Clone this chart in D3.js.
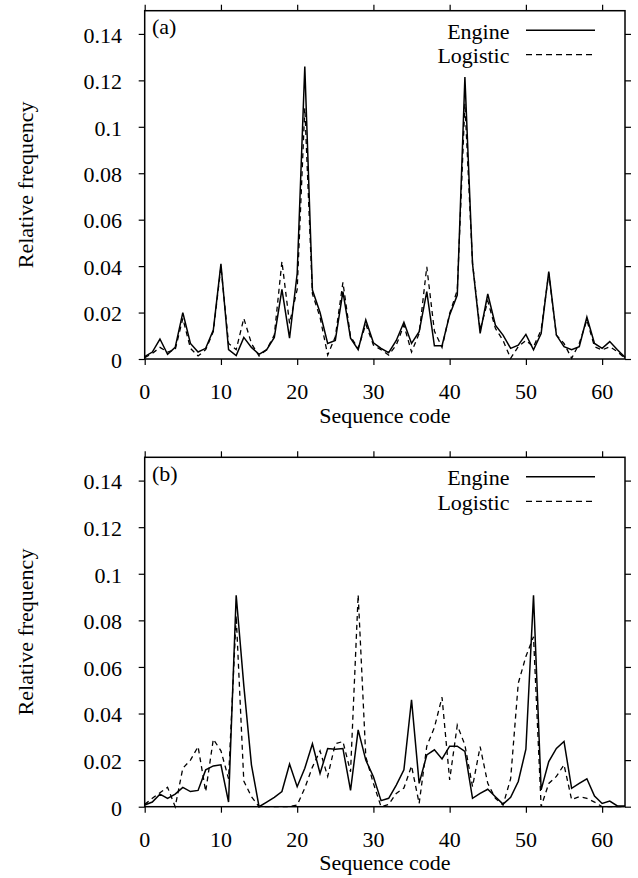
<!DOCTYPE html>
<html>
<head>
<meta charset="utf-8">
<script src="https://cdn.jsdelivr.net/npm/d3@7/dist/d3.min.js"></script>
<style>
  html, body { margin: 0; padding: 0; background: #fff; }
</style>
</head>
<body>
<svg id="chart" width="638" height="878"></svg>
<script>
// ---- data ----
const codes = [0,1,2,3,4,5,6,7,8,9,10,11,12,13,14,15,16,17,18,19,20,21,22,23,24,25,26,27,28,29,30,31,
  32,33,34,35,36,37,38,39,40,41,42,43,44,45,46,47,48,49,50,51,52,53,54,55,56,57,58,59,60,61,62,63];

const engineA = [0.001,0.003,0.0086,0.002,0.005,0.020,0.0067,0.003,0.0046,0.0125,0.041,0.004,0.0015,0.0093,0.005,0.002,
  0.004,0.0093,0.030,0.009,0.0368,0.126,0.0297,0.020,0.0067,0.008,0.029,0.009,0.004,0.0168,0.007,0.0046,
  0.0027,0.008,0.0158,0.0067,0.0118,0.029,0.0057,0.0057,0.019,0.0275,0.1214,0.041,0.011,0.028,0.0146,0.0103,
  0.0046,0.006,0.0106,0.004,0.011,0.0376,0.0103,0.0053,0.004,0.0053,0.018,0.0067,0.0046,0.0075,0.004,0.0007];

const logisticA = [0.0006,0.0024,0.005,0.003,0.004,0.0175,0.0046,0.0013,0.004,0.0118,0.0397,0.0067,0.004,0.0175,0.0067,0.0013,
  0.004,0.0103,0.042,0.0153,0.030,0.108,0.028,0.018,0.0017,0.0096,0.033,0.0096,0.0046,0.015,0.006,0.004,
  0.0017,0.006,0.0146,0.003,0.011,0.0397,0.012,0.005,0.0196,0.0296,0.110,0.0413,0.0125,0.025,0.0132,0.008,
  0.0003,0.0053,0.008,0.0053,0.0125,0.0369,0.0103,0.0067,0.0003,0.0067,0.0168,0.0053,0.0039,0.0053,0.0032,0.0003];

const engineB = [0.0007,0.002,0.0054,0.0036,0.0054,0.0083,0.0065,0.007,0.0158,0.0175,0.018,0.002,0.0908,0.052,0.018,0.0,
  0.002,0.004,0.0065,0.0183,0.0086,0.0165,0.027,0.0143,0.025,0.0247,0.025,0.007,0.033,0.020,0.0129,0.0026,
  0.0036,0.0093,0.0158,0.0459,0.010,0.0222,0.0244,0.0205,0.026,0.026,0.0237,0.0036,0.0057,0.0075,0.0043,0.0011,
  0.004,0.0108,0.0247,0.0908,0.0072,0.0194,0.025,0.028,0.0079,0.010,0.012,0.0046,0.0014,0.0024,0.0003,0.0003];

const logisticB = [0.001,0.0036,0.006,0.0083,0.0,0.0165,0.020,0.0258,0.0065,0.029,0.024,0.012,0.082,0.011,0.0043,0.0,
  0.0,0.0,0.0,0.0,0.0007,0.008,0.017,0.024,0.013,0.027,0.028,0.015,0.091,0.0215,0.010,0.0,
  0.001,0.0057,0.008,0.0175,0.0014,0.026,0.034,0.047,0.0115,0.035,0.0265,0.0086,0.0258,0.010,0.0036,0.0007,
  0.012,0.053,0.0645,0.073,0.0,0.010,0.013,0.018,0.003,0.0043,0.0036,0.002,0.0,0.0,0.0,0.0];

const xTicks = [0,10,20,30,40,50,60];
const yTicks = [0,0.02,0.04,0.06,0.08,0.1,0.12,0.14];
const yTickLabels = ["0","0.02","0.04","0.06","0.08","0.1","0.12","0.14"];
const seriesNames = ["Engine","Logistic"];
const panelLabels = ["(a)","(b)"];

// ---- layout ----
const svg = d3.select("#chart");
svg.append("rect").attr("width",638).attr("height",878).attr("fill","#fff");

const left = 144.7, right = 625;
const panels = [
  {top: 10.7, bottom: 359, eng: engineA, log: logisticA, label: panelLabels[0]},
  {top: 457.3, bottom: 806.7, eng: engineB, log: logisticB, label: panelLabels[1]}
];

const x = d3.scaleLinear().domain([0,63]).range([left,right]);

function txt(g) {
  return g.append("text")
    .attr("font-family","'Liberation Serif'")
    .style("font-family",'"Liberation Serif"')
    .attr("font-size",22).attr("fill","#000");
}

panels.forEach(p => {
  const y = d3.scaleLinear().domain([0,0.15]).range([p.bottom,p.top]);
  const g = svg.append("g");

  // frame
  g.append("rect").attr("x",left).attr("y",p.top)
    .attr("width",right-left).attr("height",p.bottom-p.top)
    .attr("fill","none").attr("stroke","#000").attr("stroke-width",1.5);

  // axes with outward ticks on all sides
  const axB = d3.axisBottom(x).tickValues(xTicks).tickSize(6).tickFormat("");
  const axT = d3.axisTop(x).tickValues(xTicks).tickSize(6).tickFormat("");
  const axL = d3.axisLeft(y).tickValues(yTicks).tickSize(6).tickFormat("");
  const axR = d3.axisRight(y).tickValues(yTicks).tickSize(6).tickFormat("");
  [[axB,`translate(0,${p.bottom})`],[axT,`translate(0,${p.top})`],
   [axL,`translate(${left},0)`],[axR,`translate(${right},0)`]].forEach(([ax,tr]) => {
    const a = g.append("g").attr("transform",tr).call(ax);
    a.select(".domain").remove();
    a.selectAll("line").attr("stroke","#000").attr("stroke-width",1.2);
  });

  // tick labels
  xTicks.forEach(d => {
    txt(g).attr("x",x(d)).attr("y",p.bottom+40).attr("text-anchor","middle").text(d);
  });
  yTicks.forEach((d,i) => {
    txt(g).attr("x",122).attr("y",y(d)).attr("dy","0.4em").attr("text-anchor","end").text(yTickLabels[i]);
  });

  // axis titles
  txt(g).attr("x",(left+right)/2).attr("y",p.bottom+63.5)
    .attr("text-anchor","middle").text("Sequence code");
  const cy = (p.top+p.bottom)/2;
  txt(g).attr("transform",`translate(33,${cy}) rotate(-90)`)
    .attr("text-anchor","middle").text("Relative frequency");

  // panel label
  txt(g).attr("x",152).attr("y",p.top+23.5).text(p.label);

  // lines
  const line = d3.line().x((d,i)=>x(codes[i])).y(d=>y(d));
  g.append("path").datum(p.log).attr("d",line).attr("fill","none")
    .attr("stroke","#000").attr("stroke-width",1.3).attr("stroke-dasharray","5,4");
  g.append("path").datum(p.eng).attr("d",line).attr("fill","none")
    .attr("stroke","#000").attr("stroke-width",1.5);

  // legend
  seriesNames.forEach((name,i) => {
    const ly = p.top + 19.5 + i*24.5;
    txt(g).attr("x",509.5).attr("y",ly + 8.5).attr("text-anchor","end").text(name);
    g.append("line").attr("x1",526).attr("x2",595).attr("y1",ly).attr("y2",ly)
      .attr("stroke","#000").attr("stroke-width",i===0?1.5:1.3)
      .attr("stroke-dasharray",i===0?null:"6,4");
  });
});
</script>
</body>
</html>
